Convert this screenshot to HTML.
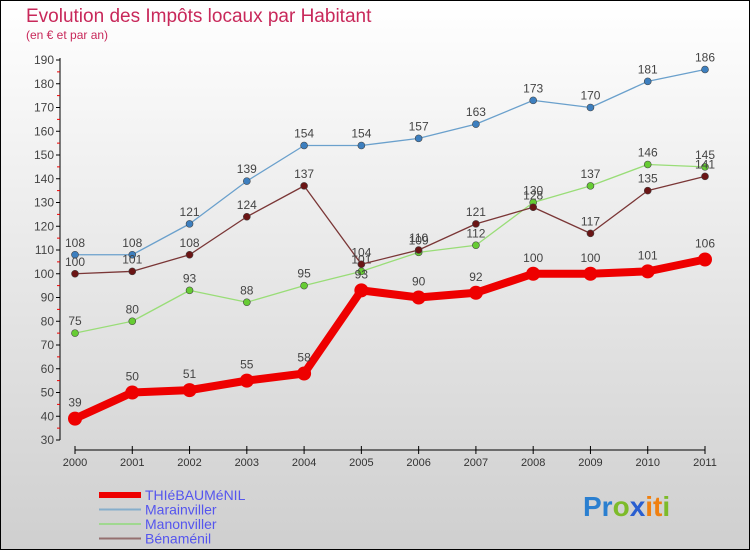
<!DOCTYPE html>
<html><head><meta charset="utf-8"><style>
body{margin:0}
#c{width:750px;height:550px;position:relative;box-sizing:border-box;border:1px solid #000;background:linear-gradient(#ffffff,#cfcfcf);font-family:"Liberation Sans",sans-serif;overflow:hidden}
</style></head><body>
<div id="c">
<svg id="s" width="750" height="550" style="position:absolute;left:-1px;top:-1px">
<text x="26" y="22" font-size="19" fill="#c8285a">Evolution des Impôts locaux par Habitant</text>
<text x="26" y="39" font-size="12" fill="#c8285a">(en € et par an)</text>
<g id="axes"></g><g id="series"></g><g id="legend"></g>
<text x="583" y="516" font-size="28" font-weight="bold"><tspan fill="#2a7fd0">Pr</tspan><tspan fill="#7dbb2a">o</tspan><tspan fill="#2a5fd0">x</tspan><tspan fill="#f08010">it</tspan><tspan fill="#7dbb2a">i</tspan></text>
</svg>
</div>
<script>
const years=["2000","2001","2002","2003","2004","2005","2006","2007","2008","2009","2010","2011"];
const yTicks=[30,40,50,60,70,80,90,100,110,120,130,140,150,160,170,180,190];
const thiebaumenil=[39,50,51,55,58,93,90,92,100,100,101,106];
const marainviller=[108,108,121,139,154,154,157,163,173,170,181,186];
const manonviller=[75,80,93,88,95,101,109,112,130,137,146,145];
const benamenil=[100,101,108,124,137,104,110,121,128,117,135,141];
const NS="http://www.w3.org/2000/svg";
function X(i){return 75+i*(630/11);}
function Y(v){return 440-(v-30)*2.375;}
function mk(t,a,p){const e=document.createElementNS(NS,t);for(const k in a)e.setAttribute(k,a[k]);p.appendChild(e);return e;}
const ax=document.getElementById('axes');
let l=mk('line',{x1:60,y1:58,x2:60,y2:440,stroke:'#000'},ax);


l=mk('line',{x1:75,y1:450,x2:705,y2:450,stroke:'#000'},ax);


yTicks.forEach(v=>{
 mk('line',{x1:56,y1:Y(v),x2:60,y2:Y(v),stroke:'#000'},ax);
 if(v<190)mk('line',{x1:57,y1:Y(v+5),x2:60,y2:Y(v+5),stroke:'#e00'},ax);
 const t=mk('text',{x:54,y:Y(v)+4,'font-size':12,fill:'#444','text-anchor':'end'},ax);t.textContent=v;
 
 
});
years.forEach((y,i)=>{
 mk('line',{x1:X(i),y1:446,x2:X(i),y2:454,stroke:'#000'},ax);
 const t=mk('text',{x:X(i),y:466,'font-size':11,fill:'#333','text-anchor':'middle'},ax);t.textContent=y;
 
 
});
const sg=document.getElementById('series');
const defs=[
 {d:marainviller,c:'#6aa0cc',pc:'#3d7fbf',w:1.3,r:3.5,n:'marainviller'},
 {d:manonviller,c:'#99dd77',pc:'#66cc33',w:1.3,r:3.5,n:'manonviller'},
 {d:benamenil,c:'#7a3636',pc:'#6b1515',w:1.3,r:3.5,n:'benamenil'},
 {d:thiebaumenil,c:'#ee0000',pc:'#ee0000',w:8,r:7,n:'thiebaumenil'}];
defs.forEach(s=>{
 const g=mk('g',{},sg);
 
 
 const p=mk('polyline',{points:s.d.map((v,i)=>X(i)+','+Y(v)).join(' '),fill:'none',stroke:s.c,'stroke-width':s.w,'stroke-linejoin':'round'},g);
 
 
 s.d.forEach((v,i)=>{
  const c=mk('circle',{cx:X(i),cy:Y(v),r:s.r,fill:s.pc,stroke:'#444','stroke-width':s.w>2?0:0.6},g);
  
  
  const t=mk('text',{x:X(i),y:Y(v)-(s.w>2?12:8),'font-size':12,fill:'#444','text-anchor':'middle'},g);t.textContent=v;
  
  
 });
});
const lg=document.getElementById('legend');
const leg=[['THIéBAUMéNIL','#ee0000',6],['Marainviller','#86aecb',2],['Manonviller','#a0d890',2],['Bénaménil','#957070',2]];
leg.forEach((e,i)=>{
 const y=495+i*14.5;
 const g=mk('g',{},lg);
 
 
 mk('line',{x1:99,y1:y,x2:141,y2:y,stroke:e[1],'stroke-width':e[2]},g);
 const t=mk('text',{x:145,y:y+5,'font-size':14,fill:'#5555ee'},g);t.textContent=e[0];
});
</script>
</body></html>
